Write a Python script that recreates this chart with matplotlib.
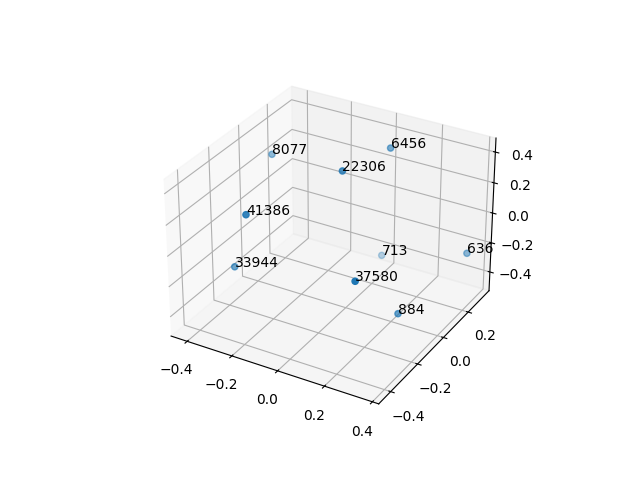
import matplotlib
matplotlib.use("Agg")
import matplotlib.pyplot as plt

# Point labels and their coordinates
labels = ["6456", "8077", "22306", "41386", "33944", "713", "636", "37580", "884"]
xs = [0.004, -0.430, -0.061, -0.293, -0.378, -0.029, 0.332, 0.157, 0.222]
ys = [0.326, 0.161, 0.075, -0.232, -0.191, 0.327, 0.358, -0.198, 0.014]
zs = [0.295, 0.20, 0.30, 0.15, -0.265, -0.45, -0.30, -0.112, -0.478]

fig = plt.figure()
ax = fig.add_subplot(projection='3d')

ax.scatter(xs, ys, zs)
for x, y, z, label in zip(xs, ys, zs, labels):
    ax.text(x, y, z, label)

ax.set_xlim(-0.473, 0.426)
ax.set_ylim(-0.486, 0.375)
ax.set_zlim(-0.53, 0.49)

fig.savefig("out.png", dpi=100)
